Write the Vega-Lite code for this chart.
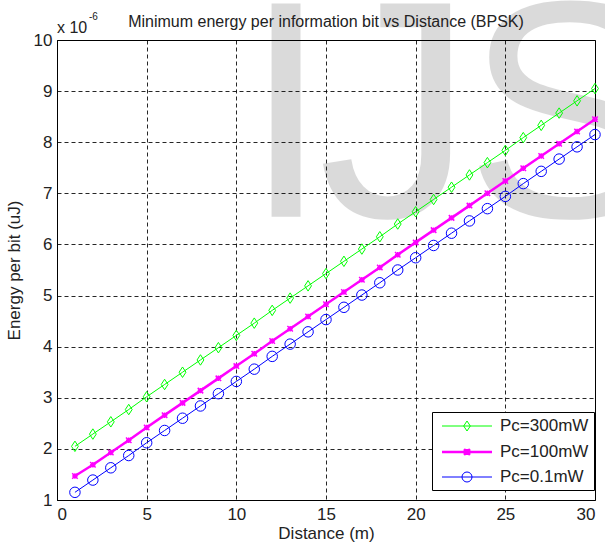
{
  "$schema": "https://vega.github.io/schema/vega-lite/v6.json",
  "width": 538,
  "height": 460,
  "autosize": {"type": "none"},
  "padding": {"left": 57, "top": 40, "right": 10, "bottom": 47},
  "background": "white",
  "config": {
    "font": "Liberation Sans",
    "view": {"stroke": "#000", "strokeWidth": 1},
    "axis": {
      "grid": true, "gridColor": "#000", "gridDash": [4, 3], "gridWidth": 1, "gridOpacity": 0.85,
      "domainColor": "#000", "domainWidth": 1, "ticks": false,
      "labelFont": "Liberation Sans", "labelFontSize": 17, "labelColor": "#222",
      "titleFont": "Liberation Sans", "titleFontSize": 17, "titleFontWeight": "normal", "titleColor": "#222"
    }
  },
  "data": {"values": [
    {"x":1,"y":2.05,"s":"Pc=300mW"},{"x":2,"y":2.29,"s":"Pc=300mW"},{"x":3,"y":2.53,"s":"Pc=300mW"},{"x":4,"y":2.77,"s":"Pc=300mW"},{"x":5,"y":3.02,"s":"Pc=300mW"},
    {"x":6,"y":3.26,"s":"Pc=300mW"},{"x":7,"y":3.50,"s":"Pc=300mW"},{"x":8,"y":3.74,"s":"Pc=300mW"},{"x":9,"y":3.98,"s":"Pc=300mW"},{"x":10,"y":4.22,"s":"Pc=300mW"},
    {"x":11,"y":4.46,"s":"Pc=300mW"},{"x":12,"y":4.71,"s":"Pc=300mW"},{"x":13,"y":4.95,"s":"Pc=300mW"},{"x":14,"y":5.19,"s":"Pc=300mW"},{"x":15,"y":5.43,"s":"Pc=300mW"},
    {"x":16,"y":5.67,"s":"Pc=300mW"},{"x":17,"y":5.91,"s":"Pc=300mW"},{"x":18,"y":6.15,"s":"Pc=300mW"},{"x":19,"y":6.40,"s":"Pc=300mW"},{"x":20,"y":6.64,"s":"Pc=300mW"},
    {"x":21,"y":6.88,"s":"Pc=300mW"},{"x":22,"y":7.12,"s":"Pc=300mW"},{"x":23,"y":7.36,"s":"Pc=300mW"},{"x":24,"y":7.60,"s":"Pc=300mW"},{"x":25,"y":7.84,"s":"Pc=300mW"},
    {"x":26,"y":8.09,"s":"Pc=300mW"},{"x":27,"y":8.33,"s":"Pc=300mW"},{"x":28,"y":8.57,"s":"Pc=300mW"},{"x":29,"y":8.81,"s":"Pc=300mW"},{"x":30,"y":9.05,"s":"Pc=300mW"},
    {"x":1,"y":1.47,"s":"Pc=100mW"},{"x":2,"y":1.69,"s":"Pc=100mW"},{"x":3,"y":1.93,"s":"Pc=100mW"},{"x":4,"y":2.17,"s":"Pc=100mW"},{"x":5,"y":2.42,"s":"Pc=100mW"},
    {"x":6,"y":2.66,"s":"Pc=100mW"},{"x":7,"y":2.90,"s":"Pc=100mW"},{"x":8,"y":3.14,"s":"Pc=100mW"},{"x":9,"y":3.38,"s":"Pc=100mW"},{"x":10,"y":3.62,"s":"Pc=100mW"},
    {"x":11,"y":3.86,"s":"Pc=100mW"},{"x":12,"y":4.11,"s":"Pc=100mW"},{"x":13,"y":4.35,"s":"Pc=100mW"},{"x":14,"y":4.59,"s":"Pc=100mW"},{"x":15,"y":4.83,"s":"Pc=100mW"},
    {"x":16,"y":5.07,"s":"Pc=100mW"},{"x":17,"y":5.31,"s":"Pc=100mW"},{"x":18,"y":5.55,"s":"Pc=100mW"},{"x":19,"y":5.80,"s":"Pc=100mW"},{"x":20,"y":6.04,"s":"Pc=100mW"},
    {"x":21,"y":6.28,"s":"Pc=100mW"},{"x":22,"y":6.52,"s":"Pc=100mW"},{"x":23,"y":6.76,"s":"Pc=100mW"},{"x":24,"y":7.00,"s":"Pc=100mW"},{"x":25,"y":7.24,"s":"Pc=100mW"},
    {"x":26,"y":7.49,"s":"Pc=100mW"},{"x":27,"y":7.73,"s":"Pc=100mW"},{"x":28,"y":7.97,"s":"Pc=100mW"},{"x":29,"y":8.21,"s":"Pc=100mW"},{"x":30,"y":8.45,"s":"Pc=100mW"},
    {"x":1,"y":1.15,"s":"Pc=0.1mW"},{"x":2,"y":1.39,"s":"Pc=0.1mW"},{"x":3,"y":1.63,"s":"Pc=0.1mW"},{"x":4,"y":1.87,"s":"Pc=0.1mW"},{"x":5,"y":2.12,"s":"Pc=0.1mW"},
    {"x":6,"y":2.36,"s":"Pc=0.1mW"},{"x":7,"y":2.60,"s":"Pc=0.1mW"},{"x":8,"y":2.84,"s":"Pc=0.1mW"},{"x":9,"y":3.08,"s":"Pc=0.1mW"},{"x":10,"y":3.32,"s":"Pc=0.1mW"},
    {"x":11,"y":3.56,"s":"Pc=0.1mW"},{"x":12,"y":3.81,"s":"Pc=0.1mW"},{"x":13,"y":4.05,"s":"Pc=0.1mW"},{"x":14,"y":4.29,"s":"Pc=0.1mW"},{"x":15,"y":4.53,"s":"Pc=0.1mW"},
    {"x":16,"y":4.77,"s":"Pc=0.1mW"},{"x":17,"y":5.01,"s":"Pc=0.1mW"},{"x":18,"y":5.25,"s":"Pc=0.1mW"},{"x":19,"y":5.50,"s":"Pc=0.1mW"},{"x":20,"y":5.74,"s":"Pc=0.1mW"},
    {"x":21,"y":5.98,"s":"Pc=0.1mW"},{"x":22,"y":6.22,"s":"Pc=0.1mW"},{"x":23,"y":6.46,"s":"Pc=0.1mW"},{"x":24,"y":6.70,"s":"Pc=0.1mW"},{"x":25,"y":6.94,"s":"Pc=0.1mW"},
    {"x":26,"y":7.19,"s":"Pc=0.1mW"},{"x":27,"y":7.43,"s":"Pc=0.1mW"},{"x":28,"y":7.67,"s":"Pc=0.1mW"},{"x":29,"y":7.91,"s":"Pc=0.1mW"},{"x":30,"y":8.15,"s":"Pc=0.1mW"}
  ]},
  "layer": [
    {
      "data": {"values": [{}]},
      "mark": {"type": "text", "text": "I", "font": "Liberation Sans", "fontSize": 310, "align": "left", "baseline": "alphabetic", "fill": "#000", "opacity": 0.14},
      "encoding": {"x": {"datum": 10.37, "type": "quantitative"}, "y": {"datum": 6.54, "type": "quantitative"}}
    },
    {
      "data": {"values": [{}]},
      "mark": {"type": "text", "text": "J", "font": "Liberation Sans", "fontSize": 310, "align": "left", "baseline": "alphabetic", "fill": "#000", "opacity": 0.14},
      "encoding": {"x": {"datum": 14.56, "type": "quantitative"}, "y": {"datum": 6.54, "type": "quantitative"}}
    },
    {
      "data": {"values": [{}]},
      "mark": {"type": "text", "text": "S", "font": "Liberation Sans", "fontSize": 310, "align": "left", "baseline": "alphabetic", "fill": "#000", "opacity": 0.14},
      "encoding": {"x": {"datum": 22.76, "type": "quantitative"}, "y": {"datum": 6.54, "type": "quantitative"}}
    },
    {
      "mark": {"type": "line"},
      "encoding": {
        "x": {"field": "x", "type": "quantitative", "scale": {"domain": [0, 30], "nice": false},
              "axis": {"values": [0, 5, 10, 15, 20, 25, 30], "format": "d", "title": "Distance (m)", "labelPadding": 6, "titlePadding": 3}},
        "y": {"field": "y", "type": "quantitative", "scale": {"domain": [1, 10], "nice": false, "zero": false},
              "axis": {"values": [1, 2, 3, 4, 5, 6, 7, 8, 9, 10], "format": "d", "title": "Energy per bit (uJ)", "labelPadding": 5, "titlePadding": 10}},
        "color": {"field": "s", "type": "nominal",
          "scale": {"domain": ["Pc=300mW", "Pc=100mW", "Pc=0.1mW"], "range": ["#00ff00", "#ff00ff", "#0000ff"]},
          "legend": {
            "title": null, "orient": "none", "legendX": 375, "legendY": 372, "columns": 1,
            "fillColor": "#ffffff", "strokeColor": "#000000", "padding": 5, "rowPadding": 8,
            "symbolSize": 289, "symbolStrokeWidth": 1, "symbolOffset": 20, "labelOffset": 23,
            "labelFont": "Liberation Sans", "labelFontSize": 17, "labelColor": "#222",
            "labelExpr": "datum.label + '  '",
            "encode": {"symbols": {"update": {
              "fill": {"value": "transparent"},
              "shape": {"signal": "datum.value === 'Pc=300mW' ? 'M-2.94,0H2.94M0,-0.59L0.39,0L0,0.59L-0.39,0Z' : datum.value === 'Pc=100mW' ? 'M-2.94,0H2.94M-0.35,-0.35L0.35,0.35M-0.35,0.35L0.35,-0.35M0,-0.35V0.35' : 'M-2.94,0H2.94M0.59,0A0.59,0.59 0 1,1 -0.59,0A0.59,0.59 0 1,1 0.59,0'"},
              "strokeWidth": {"signal": "datum.value === 'Pc=100mW' ? 2.5 : 1"}
            }}}
          }},
        "strokeWidth": {"field": "s", "type": "nominal",
          "scale": {"type": "ordinal", "domain": ["Pc=300mW", "Pc=100mW", "Pc=0.1mW"], "range": [1, 2.5, 1]}, "legend": null}
      }
    },
    {
      "transform": [{"filter": "datum.s === 'Pc=300mW'"}],
      "mark": {"type": "point", "filled": false, "strokeWidth": 1, "opacity": 1, "shape": "M0,-1L0.65,0L0,1L-0.65,0Z", "size": 110},
      "encoding": {
        "x": {"field": "x", "type": "quantitative"},
        "y": {"field": "y", "type": "quantitative"},
        "color": {"field": "s", "type": "nominal"}
      }
    },
    {
      "transform": [{"filter": "datum.s === 'Pc=100mW'"}],
      "mark": {"type": "point", "filled": false, "strokeWidth": 1.5, "opacity": 1, "shape": "M-1,-1L1,1M-1,1L1,-1M0,-1V1M-1,0H1", "size": 30},
      "encoding": {
        "x": {"field": "x", "type": "quantitative"},
        "y": {"field": "y", "type": "quantitative"},
        "color": {"field": "s", "type": "nominal"}
      }
    },
    {
      "transform": [{"filter": "datum.s === 'Pc=0.1mW'"}],
      "mark": {"type": "point", "filled": false, "strokeWidth": 1, "opacity": 1, "shape": "circle", "size": 110},
      "encoding": {
        "x": {"field": "x", "type": "quantitative"},
        "y": {"field": "y", "type": "quantitative"},
        "color": {"field": "s", "type": "nominal"}
      }
    },
    {
      "data": {"values": [{}]},
      "mark": {"type": "text", "text": "Minimum energy per information bit vs Distance (BPSK)", "font": "Liberation Sans", "fontSize": 16, "align": "center", "baseline": "alphabetic", "dy": -13, "fill": "#222"},
      "encoding": {"x": {"datum": 15, "type": "quantitative"}, "y": {"datum": 10, "type": "quantitative"}}
    },
    {
      "data": {"values": [{}]},
      "mark": {"type": "text", "text": "x 10", "font": "Liberation Sans", "fontSize": 16, "align": "left", "baseline": "alphabetic", "dy": -7, "fill": "#222"},
      "encoding": {"x": {"datum": 0, "type": "quantitative"}, "y": {"datum": 10, "type": "quantitative"}}
    },
    {
      "data": {"values": [{}]},
      "mark": {"type": "text", "text": "-6", "font": "Liberation Sans", "fontSize": 10, "align": "left", "baseline": "alphabetic", "dx": 32, "dy": -20, "fill": "#222"},
      "encoding": {"x": {"datum": 0, "type": "quantitative"}, "y": {"datum": 10, "type": "quantitative"}}
    }
  ]
}
